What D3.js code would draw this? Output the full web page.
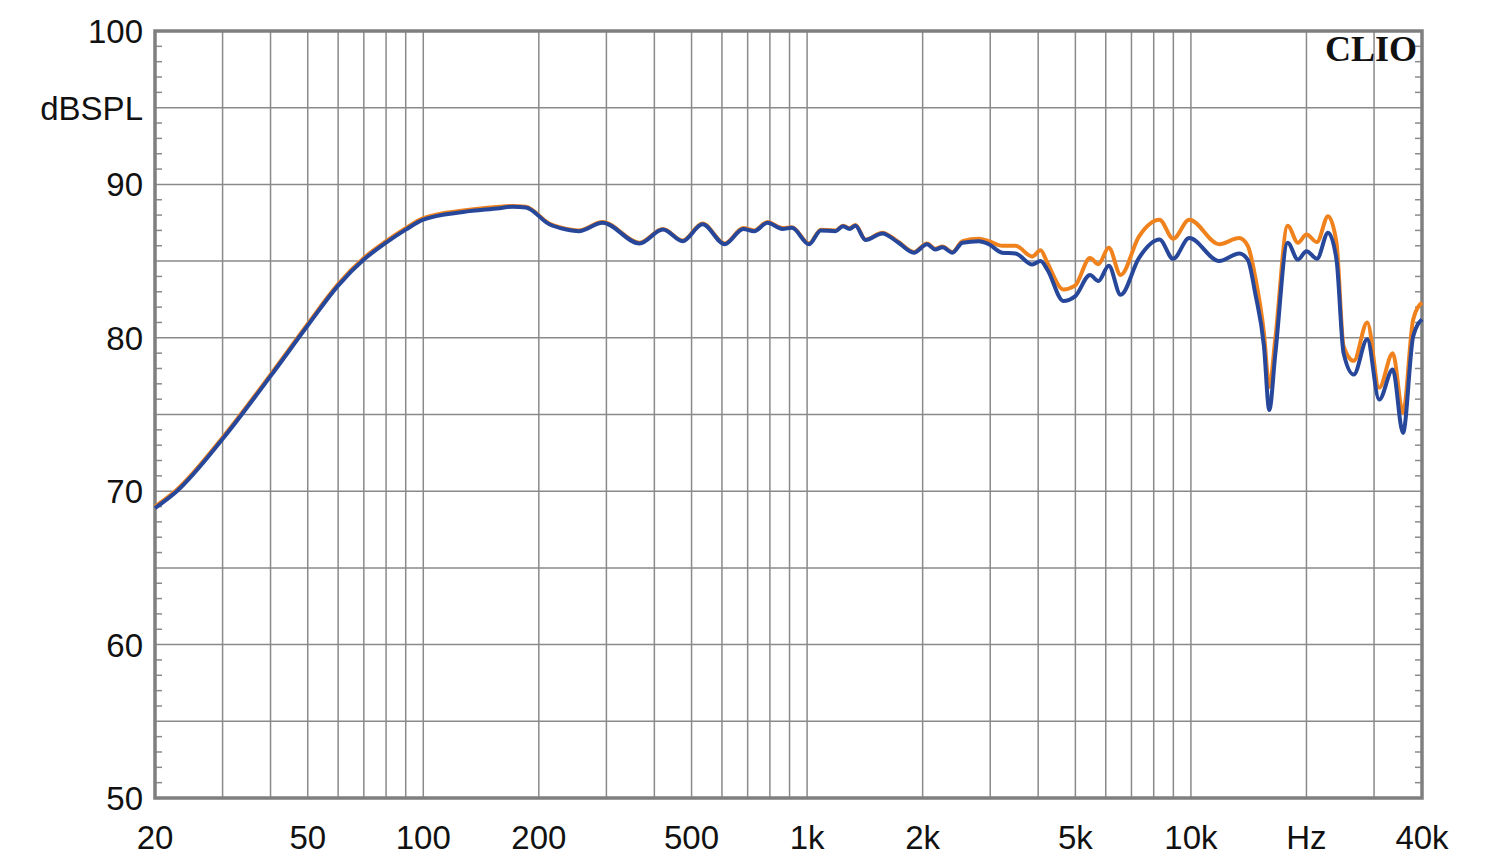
<!DOCTYPE html>
<html>
<head>
<meta charset="utf-8">
<script src="https://cdn.jsdelivr.net/npm/d3@7"></script>
<style>
  body { margin: 0; background: #fff; }
  svg text { font-family: "Liberation Sans", Arial, sans-serif; fill: #111; }
</style>
</head>
<body>
<div id="chart"></div>
<script>
// frequency response, two measurements (CLIO export)
var freqs = [20, 22.8, 30, 40, 50, 60, 70, 80, 90, 100, 127, 158, 171, 185, 213, 236, 254, 293, 366, 421,
  474, 534, 610, 682, 728, 788, 862, 913, 1012, 1086, 1186, 1240, 1290, 1336, 1420, 1570, 1720, 1898, 2053, 2157,
  2252, 2391, 2540, 2800, 2976, 3220, 3490, 3860, 4058, 4225, 4652, 4990, 5460, 5740, 6110, 6560, 7320, 8280, 8990, 9900,
  11850, 13360, 14060, 14700, 15500, 16000, 16600, 17870, 19000, 20000, 21300, 22770, 23950, 24990, 26560, 28800, 30940, 33560, 35690, 37940,
  40000];

var blueSpl = [68.9, 70.0, 73.4, 77.5, 80.8, 83.4, 85.1, 86.2, 87.05, 87.7, 88.2, 88.45, 88.55, 88.5, 87.4, 87.06, 86.95, 87.5, 86.15, 87.06,
  86.3, 87.4, 86.1, 87.1, 86.95, 87.5, 87.1, 87.17, 86.1, 87.0, 86.95, 87.28, 87.1, 87.3, 86.37, 86.8, 86.25, 85.55, 86.1, 85.76,
  85.9, 85.55, 86.2, 86.3, 86.1, 85.55, 85.5, 84.78, 85.0, 84.45, 82.4, 82.7, 84.1, 83.7, 84.7, 82.8, 85.2, 86.4, 85.15, 86.5,
  85.0, 85.5, 85.1, 82.93, 79.45, 75.3, 79.0, 86.2, 85.1, 85.65, 85.15, 86.85, 85.1, 79.0, 77.6, 79.9, 75.97, 77.93, 73.8, 80.1,
  81.2];

var orangeSpl = [69.0, 70.1, 73.5, 77.6, 80.9, 83.5, 85.2, 86.3, 87.15, 87.8, 88.3, 88.55, 88.6, 88.55, 87.45, 87.1, 87.0, 87.55, 86.2, 87.1,
  86.35, 87.45, 86.15, 87.15, 87.0, 87.55, 87.15, 87.2, 86.15, 87.05, 87.0, 87.3, 87.15, 87.35, 86.4, 86.85, 86.3, 85.6, 86.15, 85.8,
  85.95, 85.6, 86.3, 86.45, 86.3, 86.0, 86.0, 85.3, 85.7, 84.9, 83.15, 83.4, 85.2, 84.8, 85.87, 84.1, 86.6, 87.7, 86.46, 87.7,
  86.1, 86.5, 86.0, 84.0, 80.3, 76.8, 80.0, 87.3, 86.2, 86.74, 86.24, 87.93, 86.2, 79.45, 78.5, 81.0, 76.74, 79.0, 75.1, 81.2,
  82.3];

var xTickValues = [20, 50, 100, 200, 500, 1000, 2000, 5000, 10000, 20000, 40000];
var xTickLabels = ["20", "50", "100", "200", "500", "1k", "2k", "5k", "10k", "Hz", "40k"];
var yTickValues = [100, 95, 90, 80, 70, 60, 50];
var yTickLabels = ["100", "dBSPL", "90", "80", "70", "60", "50"];

var width = 1500, height = 864;
var plotLeft = 155, plotRight = 1422, plotTop = 31, plotBottom = 798;

var svg = d3.select("#chart").append("svg")
    .attr("width", width)
    .attr("height", height);

var x = d3.scaleLog().domain([20, 40000]).range([plotLeft, plotRight]);
var y = d3.scaleLinear().domain([50, 100]).range([plotBottom, plotTop]);

// grid
var gridColor = "#8a8a8a";
svg.append("g")
    .selectAll("line")
    .data(x.ticks())
    .enter().append("line")
    .attr("x1", d => x(d)).attr("x2", d => x(d))
    .attr("y1", plotTop).attr("y2", plotBottom)
    .style("stroke", gridColor).style("stroke-width", 1.5);

svg.append("g")
    .selectAll("line")
    .data(d3.range(50, 101, 5))
    .enter().append("line")
    .attr("x1", plotLeft).attr("x2", plotRight)
    .attr("y1", d => y(d)).attr("y2", d => y(d))
    .style("stroke", gridColor).style("stroke-width", 1.5);

// minor ticks on left and right borders, every 1 dB
var minor = d3.range(50, 101, 1).filter(d => d % 5 != 0);
svg.append("g").selectAll("line").data(minor).enter().append("line")
    .attr("x1", plotLeft).attr("x2", plotLeft + 7)
    .attr("y1", d => y(d)).attr("y2", d => y(d))
    .style("stroke", gridColor).style("stroke-width", 1.5);
svg.append("g").selectAll("line").data(minor).enter().append("line")
    .attr("x1", plotRight - 7).attr("x2", plotRight)
    .attr("y1", d => y(d)).attr("y2", d => y(d))
    .style("stroke", gridColor).style("stroke-width", 1.5);

// frame
svg.append("rect")
    .attr("x", plotLeft).attr("y", plotTop)
    .attr("width", plotRight - plotLeft).attr("height", plotBottom - plotTop)
    .style("fill", "none")
    .style("stroke", "#7f7f7f")
    .style("stroke-width", 3.5);

// curves
var line = d3.line()
    .x(d => x(d[0]))
    .y(d => y(d[1]))
    .curve(d3.curveMonotoneX);

svg.append("path")
    .datum(freqs.map((f, i) => [f, orangeSpl[i]]))
    .attr("d", line)
    .style("fill", "none")
    .style("stroke", "#f0821e")
    .style("stroke-width", 4)
    .style("stroke-linejoin", "round");

svg.append("path")
    .datum(freqs.map((f, i) => [f, blueSpl[i]]))
    .attr("d", line)
    .style("fill", "none")
    .style("stroke", "#27479b")
    .style("stroke-width", 4)
    .style("stroke-linejoin", "round");

// axis labels
svg.append("g").selectAll("text").data(xTickValues).enter().append("text")
    .attr("x", d => x(d))
    .attr("y", 849)
    .attr("text-anchor", "middle")
    .style("font-size", "33px")
    .text((d, i) => xTickLabels[i]);

svg.append("g").selectAll("text").data(yTickValues).enter().append("text")
    .attr("x", 143)
    .attr("y", d => y(d) + 12)
    .attr("text-anchor", "end")
    .style("font-size", "33px")
    .text((d, i) => yTickLabels[i]);

svg.append("text")
    .attr("x", 1417)
    .attr("y", 61)
    .attr("text-anchor", "end")
    .style("font-family", "'Liberation Serif', 'DejaVu Serif', serif")
    .style("font-weight", "bold")
    .style("font-size", "36px")
    .text("CLIO");
</script>
</body>
</html>
